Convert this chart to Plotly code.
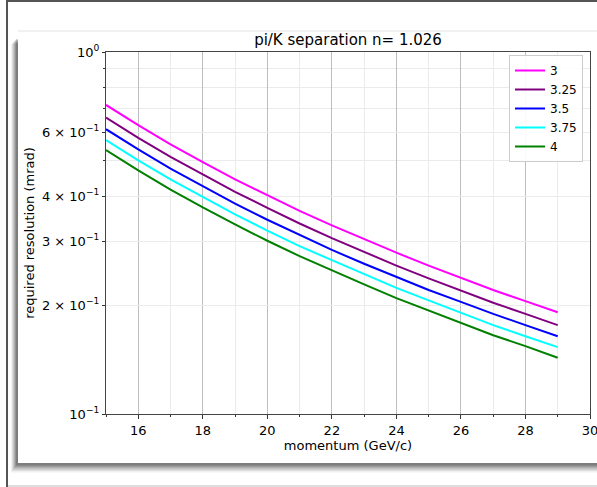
import plotly.graph_objects as go

# ---- data ----
momentum = [15, 16, 17, 18, 19, 20, 21, 22, 23, 24, 25, 26, 27, 28, 29]
res_3 = [0.714, 0.628, 0.556, 0.496, 0.445, 0.402, 0.364, 0.332, 0.304, 0.279, 0.257, 0.238, 0.220, 0.205, 0.191]
res_325 = [0.659, 0.579, 0.513, 0.458, 0.411, 0.371, 0.336, 0.306, 0.280, 0.257, 0.237, 0.219, 0.203, 0.189, 0.176]
res_35 = [0.612, 0.538, 0.476, 0.425, 0.381, 0.344, 0.312, 0.284, 0.260, 0.239, 0.220, 0.204, 0.189, 0.176, 0.164]
res_375 = [0.571, 0.502, 0.445, 0.397, 0.356, 0.321, 0.291, 0.266, 0.243, 0.223, 0.206, 0.190, 0.176, 0.164, 0.153]
res_4 = [0.536, 0.471, 0.417, 0.372, 0.334, 0.301, 0.273, 0.249, 0.228, 0.209, 0.193, 0.178, 0.165, 0.154, 0.143]
series_names = ["3", "3.25", "3.5", "3.75", "4"]
series_values = [res_3, res_325, res_35, res_375, res_4]
series_colors = ["#ff00ff", "#800080", "#0000ff", "#00ffff", "#008000"]

x_tickvals = [16, 18, 20, 22, 24, 26, 28, 30]
x_minorvals = [15, 17, 19, 21, 23, 25, 27, 29]
y_tickvals = [0.1, 0.2, 0.3, 0.4, 0.6, 1.0]
y_ticktext = ["10<sup>−1</sup>", "2 × 10<sup>−1</sup>", "3 × 10<sup>−1</sup>",
              "4 × 10<sup>−1</sup>", "6 × 10<sup>−1</sup>", "10<sup>0</sup>"]
y_minorvals = [0.5, 0.7, 0.8, 0.9]

W, H = 597, 487
L, R, T, B = 106, 7, 52, 73
PW, PH = W - L - R, H - T - B


def px(x):
    return (x - L) / PW


def py(y):
    return (H - B - y) / PH


FONT = "DejaVu Sans"
fig = go.Figure()
for name, vals, col in zip(series_names, series_values, series_colors):
    fig.add_trace(go.Scatter(x=momentum, y=vals, mode="lines", name=name,
                             line=dict(color=col, width=2)))

shapes = []
# outer frame lines
shapes.append(dict(type="rect", xref="paper", yref="paper", x0=px(6), x1=px(8), y0=py(487), y1=py(0),
                   fillcolor="#555555", line=dict(width=0), layer="below"))
shapes.append(dict(type="rect", xref="paper", yref="paper", x0=px(6), x1=px(600), y0=py(2), y1=py(-1),
                   fillcolor="#555555", line=dict(width=0), layer="below"))
shapes.append(dict(type="rect", xref="paper", yref="paper", x0=px(8), x1=px(600), y0=py(487), y1=py(485),
                   fillcolor="#dddddd", line=dict(width=0), layer="below"))
# shadow of card (layered, soft)
for i, a in enumerate([0.06, 0.08, 0.10, 0.12, 0.14, 0.16]):
    d = 6 - i
    shapes.append(dict(type="rect", xref="paper", yref="paper",
                       x0=px(17 - d), x1=px(605), y0=py(464 + 1.4 * d), y1=py(38 + d),
                       fillcolor="rgba(0,0,0,%.2f)" % a, line=dict(width=0), layer="below"))
# card
shapes.append(dict(type="rect", xref="paper", yref="paper", x0=px(18), x1=px(605), y0=py(463), y1=py(31),
                   fillcolor="white", line=dict(width=0), layer="below"))
shapes.append(dict(type="line", xref="paper", yref="paper", x0=px(18), x1=px(605), y0=py(31), y1=py(31),
                   line=dict(color="#e4e4e4", width=1), layer="below"))

fig.update_layout(
    width=W, height=H,
    margin=dict(l=L, r=R, t=T, b=B, autoexpand=False),
    paper_bgcolor="white", plot_bgcolor="white",
    font=dict(family=FONT, size=13, color="black"),
    title=dict(text="pi/K separation n= 1.026", x=px(348), xref="paper", xanchor="center",
               y=1 - 40 / H, yref="container", yanchor="middle", font=dict(size=15)),
    shapes=shapes,
    showlegend=True,
    legend=dict(x=px(583), y=py(55), xanchor="right", yanchor="top",
                bgcolor="rgba(255,255,255,0.9)", bordercolor="#cccccc", borderwidth=1,
                font=dict(size=12), itemwidth=30, tracegroupgap=0),
    xaxis=dict(range=[15, 30], tickvals=x_tickvals, ticks="outside", ticklen=4, tickcolor="#333",
               showline=True, mirror=True, linecolor="#444", linewidth=1.2,
               showgrid=True, gridcolor="#bdbdbd", gridwidth=1, zeroline=False,
               tickfont=dict(size=13), ticklabeloverflow="allow", automargin=False,
               minor=dict(tickvals=x_minorvals, ticks="outside", ticklen=2, tickcolor="#333",
                          showgrid=True, gridcolor="#ebebeb"),
               title=dict(text="momentum (GeV/c)", standoff=3, font=dict(size=13))),
    yaxis=dict(type="log", range=[-1, 0], tickvals=y_tickvals, ticktext=y_ticktext,
               ticks="outside", ticklen=3, tickcolor="#333",
               showline=True, mirror=True, linecolor="#444", linewidth=1.2,
               showgrid=True, gridcolor="#ebebeb", zeroline=False,
               tickfont=dict(size=13), automargin=False,
               minor=dict(tickvals=y_minorvals, ticks="outside", ticklen=2, tickcolor="#333",
                          showgrid=True, gridcolor="#ebebeb"),
               title=dict(text="required resolution (mrad)", standoff=4, font=dict(size=13))),
)

fig.write_html("out.html")
